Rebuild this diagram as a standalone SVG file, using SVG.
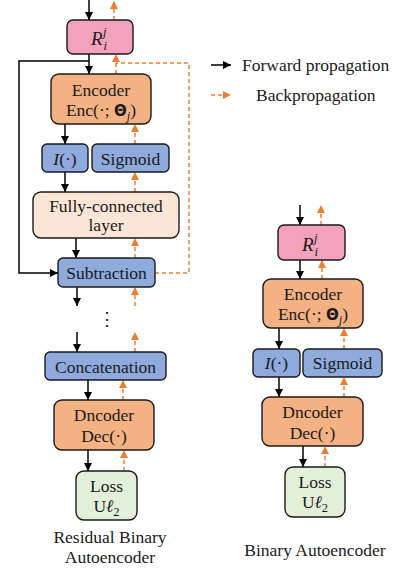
<svg xmlns="http://www.w3.org/2000/svg" width="396" height="571" viewBox="0 0 396 571">
  <style>
    text { font-family: "Liberation Serif", "Times New Roman", serif; font-size: 17.5px; fill: #1a1a1a; text-anchor: middle; }
    .box { stroke: #1a1a1a; stroke-width: 1.4; }
    .pink { fill: #f2a2bd; }
    .enc { fill: #f4b183; }
    .blue { fill: #8faadc; }
    .peach { fill: #fbe5d6; }
    .green { fill: #e2f0d9; }
    .fwd { stroke: #000; stroke-width: 1.5; fill: none; }
    .bwd { stroke: #ed7d31; stroke-width: 1.5; fill: none; stroke-dasharray: 4 3; }
    .it { font-style: italic; }
    .sub { font-size: 12.5px; }
    .big { font-size: 19px; }
    .theta { font-family: "DejaVu Sans", sans-serif; font-weight: bold; font-size: 15px; }
  </style>
  <defs>
    <marker id="ah-fwd" markerUnits="userSpaceOnUse" markerWidth="10" markerHeight="10" refX="8" refY="4" orient="auto">
      <path d="M0,0 L8,4 L0,8 Z" fill="#000"/>
    </marker>
    <marker id="ah-bwd" markerUnits="userSpaceOnUse" markerWidth="10" markerHeight="10" refX="8" refY="4" orient="auto">
      <path d="M0,0 L8,4 L0,8 Z" fill="#ed7d31"/>
    </marker>
  </defs>

  <!-- connectors -->
  <g id="connectors">
    <!-- residual branch, forward -->
    <line class="fwd" x1="89" y1="0" x2="89" y2="20" marker-end="url(#ah-fwd)"/>
    <line class="fwd" x1="89" y1="54" x2="89" y2="74" marker-end="url(#ah-fwd)"/>
    <path class="fwd" d="M89,61 H19 V273 H58" marker-end="url(#ah-fwd)"/>
    <line class="fwd" x1="65" y1="124" x2="65" y2="144" marker-end="url(#ah-fwd)"/>
    <line class="fwd" x1="65" y1="172" x2="65" y2="192" marker-end="url(#ah-fwd)"/>
    <line class="fwd" x1="76" y1="238" x2="76" y2="258" marker-end="url(#ah-fwd)"/>
    <line class="fwd" x1="77" y1="287" x2="77" y2="306" marker-end="url(#ah-fwd)"/>
    <line class="fwd" x1="77" y1="332" x2="77" y2="352" marker-end="url(#ah-fwd)"/>
    <line class="fwd" x1="88" y1="380" x2="88" y2="400" marker-end="url(#ah-fwd)"/>
    <line class="fwd" x1="88" y1="450" x2="88" y2="471" marker-end="url(#ah-fwd)"/>

    <!-- residual branch, backward -->
    <line class="bwd" x1="114" y1="20" x2="114" y2="1" marker-end="url(#ah-bwd)"/>
    <line class="bwd" x1="116" y1="74" x2="116" y2="54" marker-end="url(#ah-bwd)"/>
    <path class="bwd" d="M155,273 H189 V63 H116"/>
    <line class="bwd" x1="135" y1="144" x2="135" y2="124" marker-end="url(#ah-bwd)"/>
    <line class="bwd" x1="135" y1="192" x2="135" y2="172" marker-end="url(#ah-bwd)"/>
    <line class="bwd" x1="135" y1="258" x2="135" y2="238" marker-end="url(#ah-bwd)"/>
    <line class="bwd" x1="135" y1="306" x2="135" y2="287" marker-end="url(#ah-bwd)"/>
    <line class="bwd" x1="135" y1="352" x2="135" y2="332" marker-end="url(#ah-bwd)"/>
    <line class="bwd" x1="123" y1="400" x2="123" y2="380" marker-end="url(#ah-bwd)"/>
    <line class="bwd" x1="124" y1="471" x2="124" y2="450" marker-end="url(#ah-bwd)"/>

    <!-- plain branch, forward -->
    <line class="fwd" x1="300" y1="205" x2="300" y2="225" marker-end="url(#ah-fwd)"/>
    <line class="fwd" x1="300" y1="260" x2="300" y2="279" marker-end="url(#ah-fwd)"/>
    <line class="fwd" x1="279" y1="328" x2="279" y2="349" marker-end="url(#ah-fwd)"/>
    <line class="fwd" x1="279" y1="377" x2="279" y2="397" marker-end="url(#ah-fwd)"/>
    <line class="fwd" x1="303" y1="446" x2="303" y2="467" marker-end="url(#ah-fwd)"/>

    <!-- plain branch, backward -->
    <line class="bwd" x1="321" y1="225" x2="321" y2="205" marker-end="url(#ah-bwd)"/>
    <line class="bwd" x1="322" y1="279" x2="322" y2="260" marker-end="url(#ah-bwd)"/>
    <line class="bwd" x1="344" y1="349" x2="344" y2="328" marker-end="url(#ah-bwd)"/>
    <line class="bwd" x1="344" y1="397" x2="344" y2="377" marker-end="url(#ah-bwd)"/>
    <line class="bwd" x1="325" y1="467" x2="325" y2="446" marker-end="url(#ah-bwd)"/>
  </g>

  <!-- legend -->
  <g id="legend">
    <line class="fwd" x1="211" y1="65" x2="231" y2="65" marker-end="url(#ah-fwd)"/>
    <text x="242" y="71" style="text-anchor:start">Forward propagation</text>
    <line class="bwd" x1="211" y1="95" x2="231" y2="95" marker-end="url(#ah-bwd)"/>
    <text x="256" y="101" style="text-anchor:start">Backpropagation</text>
  </g>

  <!-- residual binary autoencoder -->
  <g id="rba-residual">
    <rect class="box pink" x="67" y="20" width="66" height="34" rx="6"/>
    <text x="99" y="45"><tspan class="it big">R</tspan><tspan class="it sub" dx="1" dy="5">i</tspan><tspan class="it sub" dx="-4" dy="-14">j</tspan></text>
  </g>
  <g id="rba-encoder">
    <rect class="box enc" x="51" y="74" width="100" height="50" rx="8"/>
    <text x="101" y="96">Encoder</text>
    <text x="101" y="116">Enc(·; <tspan class="theta">Θ</tspan><tspan class="it sub" dy="4">j</tspan><tspan dy="-4">)</tspan></text>
  </g>
  <g id="rba-indicator">
    <rect class="box blue" x="42" y="144" width="46" height="28" rx="5"/>
    <text x="65" y="165"><tspan class="it">I</tspan>(·)</text>
  </g>
  <g id="rba-sigmoid">
    <rect class="box blue" x="92" y="144" width="77" height="28" rx="5"/>
    <text x="130.5" y="165">Sigmoid</text>
  </g>
  <g id="rba-fc">
    <rect class="box peach" x="33" y="192" width="146" height="46" rx="8"/>
    <text x="106" y="212">Fully-connected</text>
    <text x="106" y="231">layer</text>
  </g>
  <g id="rba-subtraction">
    <rect class="box blue" x="58" y="258" width="97" height="29" rx="5"/>
    <text x="106.5" y="279">Subtraction</text>
  </g>
  <text x="107" y="325" style="font-family:'DejaVu Serif', serif; font-size:18px">⋮</text>
  <g id="rba-concat">
    <rect class="box blue" x="45" y="352" width="121" height="28" rx="5"/>
    <text x="105.5" y="373">Concatenation</text>
  </g>
  <g id="rba-decoder">
    <rect class="box enc" x="54" y="400" width="100" height="50" rx="8"/>
    <text x="104" y="421">Dncoder</text>
    <text x="104" y="442">Dec(·)</text>
  </g>
  <g id="rba-loss">
    <rect class="box green" x="76" y="471" width="61" height="49" rx="8"/>
    <text x="106.5" y="492">Loss</text>
    <text x="106.5" y="512">U<tspan class="it">ℓ</tspan><tspan class="sub" dy="4">2</tspan></text>
  </g>
  <text x="110" y="543">Residual Binary</text>
  <text x="110" y="563">Autoencoder</text>

  <!-- binary autoencoder -->
  <g id="ba-residual">
    <rect class="box pink" x="278" y="225" width="67" height="35" rx="6"/>
    <text x="310" y="251"><tspan class="it big">R</tspan><tspan class="it sub" dx="1" dy="5">i</tspan><tspan class="it sub" dx="-4" dy="-14">j</tspan></text>
  </g>
  <g id="ba-encoder">
    <rect class="box enc" x="263" y="279" width="100" height="49" rx="8"/>
    <text x="313" y="300">Encoder</text>
    <text x="313" y="320">Enc(·; <tspan class="theta">Θ</tspan><tspan class="it sub" dy="4">j</tspan><tspan dy="-4">)</tspan></text>
  </g>
  <g id="ba-indicator">
    <rect class="box blue" x="253" y="349" width="47" height="28" rx="5"/>
    <text x="276.5" y="369"><tspan class="it">I</tspan>(·)</text>
  </g>
  <g id="ba-sigmoid">
    <rect class="box blue" x="303" y="349" width="79" height="28" rx="5"/>
    <text x="342.5" y="369">Sigmoid</text>
  </g>
  <g id="ba-decoder">
    <rect class="box enc" x="262" y="397" width="101" height="49" rx="8"/>
    <text x="312.5" y="418">Dncoder</text>
    <text x="312.5" y="439">Dec(·)</text>
  </g>
  <g id="ba-loss">
    <rect class="box green" x="285" y="467" width="60" height="50" rx="8"/>
    <text x="315" y="488">Loss</text>
    <text x="315" y="508">U<tspan class="it">ℓ</tspan><tspan class="sub" dy="4">2</tspan></text>
  </g>
  <text x="315" y="556">Binary Autoencoder</text>
</svg>
